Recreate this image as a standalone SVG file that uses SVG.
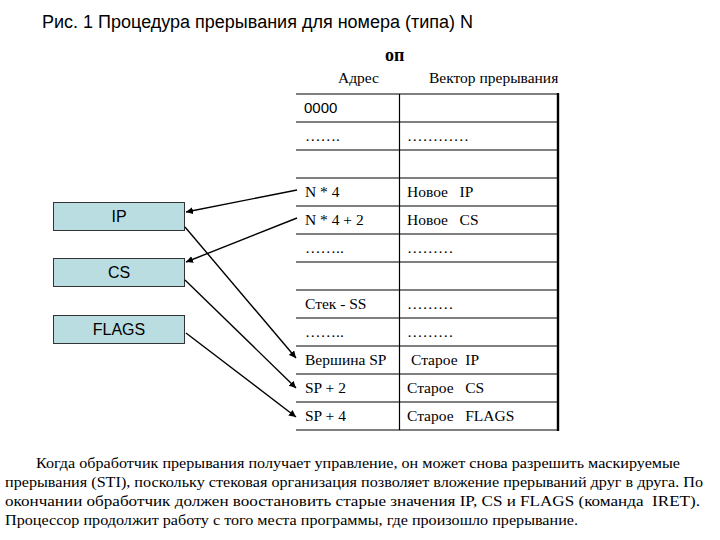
<svg xmlns="http://www.w3.org/2000/svg" width="720" height="540" viewBox="0 0 720 540">
<defs>
<style>
text{white-space:pre}
.ttl{font-family:"Liberation Sans",Arial,sans-serif;font-size:18px;fill:#000}
.ser{font-family:"Liberation Serif","Times New Roman",serif;font-size:15.5px;fill:#000}
.sans{font-family:"Liberation Sans",Arial,sans-serif;font-size:15px;fill:#000}
.box{fill:#b9dde1;stroke:#333;stroke-width:1}
.bl{font-family:"Liberation Sans",Arial,sans-serif;font-size:16px;fill:#000;text-anchor:middle}
.hl{stroke:#000;stroke-width:1.2}
.con{stroke:#000;stroke-width:1.4;fill:none;marker-end:url(#ah)}
</style>
<marker id="ah" viewBox="0 0 10 10" refX="10" refY="5" markerWidth="7" markerHeight="7" markerUnits="userSpaceOnUse" orient="auto">
<path d="M0,0 L10,5 L0,10 z" fill="#000"/>
</marker>
</defs>
<rect width="720" height="540" fill="#fff"/>
<text class="ttl" x="42" y="28">Рис. 1 Процедура прерывания для номера (типа) N</text>
<text class="ser" x="385" y="61" style="font-size:18px;font-weight:bold">оп</text>
<text class="ser" x="338" y="83">Адрес</text>
<text class="ser" x="429" y="83">Вектор прерывания</text>
<g id="table">
<g class="hl">
<line x1="296" y1="94" x2="558" y2="94"/>
<line x1="296" y1="122" x2="558" y2="122"/>
<line x1="296" y1="150" x2="558" y2="150"/>
<line x1="296" y1="178" x2="558" y2="178"/>
<line x1="296" y1="206" x2="558" y2="206"/>
<line x1="296" y1="234" x2="558" y2="234"/>
<line x1="296" y1="262" x2="558" y2="262"/>
<line x1="296" y1="290" x2="558" y2="290"/>
<line x1="296" y1="318" x2="558" y2="318"/>
<line x1="296" y1="346" x2="558" y2="346"/>
<line x1="296" y1="374" x2="558" y2="374"/>
<line x1="296" y1="402" x2="558" y2="402"/>
<line x1="296" y1="430" x2="558" y2="430"/>
<line x1="399.5" y1="94" x2="399.5" y2="430"/>
</g>
<line x1="558" y1="93" x2="558" y2="431" stroke="#000" stroke-width="2.4"/>
<text class="sans" x="304" y="113">0000</text>
<text class="ser" x="305" y="141">…….</text>
<text class="ser" x="407" y="141">…………</text>
<text class="ser" x="305" y="197">N * 4</text>
<text class="ser" x="407" y="197">Новое   IP</text>
<text class="ser" x="305" y="225">N * 4 + 2</text>
<text class="ser" x="407" y="225">Новое   CS</text>
<text class="ser" x="305" y="253">……..</text>
<text class="ser" x="407" y="253">………</text>
<text class="ser" x="305" y="309">Стек - SS</text>
<text class="ser" x="407" y="309">………</text>
<text class="ser" x="305" y="337">……..</text>
<text class="ser" x="407" y="337">………</text>
<text class="ser" x="305" y="365">Вершина SP</text>
<text class="ser" x="411" y="365">Старое  IP</text>
<text class="ser" x="305" y="393">SP + 2</text>
<text class="ser" x="407" y="393">Старое   CS</text>
<text class="ser" x="305" y="421">SP + 4</text>
<text class="ser" x="407" y="421">Старое   FLAGS</text>
</g>
<g id="ip">
<rect class="box" x="53.5" y="202.5" width="131" height="28"/>
<text class="bl" x="119" y="222">IP</text>
</g>
<g id="cs">
<rect class="box" x="53.5" y="258.5" width="131" height="28"/>
<text class="bl" x="119" y="278">CS</text>
</g>
<g id="flags">
<rect class="box" x="53.5" y="315.5" width="131" height="28"/>
<text class="bl" x="119" y="335">FLAGS</text>
</g>
<g id="connectors">
<line class="con" x1="297" y1="190" x2="186" y2="212"/>
<line class="con" x1="297" y1="218" x2="186" y2="262"/>
<line class="con" x1="185" y1="227" x2="296" y2="358"/>
<line class="con" x1="185" y1="280" x2="296" y2="388"/>
<line class="con" x1="186" y1="333" x2="296" y2="417"/>
</g>
<g id="paragraph" class="ser">
<text x="36" y="468" textLength="644" lengthAdjust="spacingAndGlyphs">Когда обработчик прерывания получает управление, он может снова разрешить маскируемые</text>
<text x="5" y="487" textLength="698" lengthAdjust="spacingAndGlyphs">прерывания (STI), поскольку стековая организация позволяет вложение прерываний друг в друга. По</text>
<text x="5" y="506" textLength="695" lengthAdjust="spacingAndGlyphs">окончании обработчик должен воостановить старые значения IP, CS и FLAGS (команда  IRET).</text>
<text x="5" y="525" textLength="573" lengthAdjust="spacingAndGlyphs">Процессор продолжит работу с того места программы, где произошло прерывание.</text>
</g>
</svg>
